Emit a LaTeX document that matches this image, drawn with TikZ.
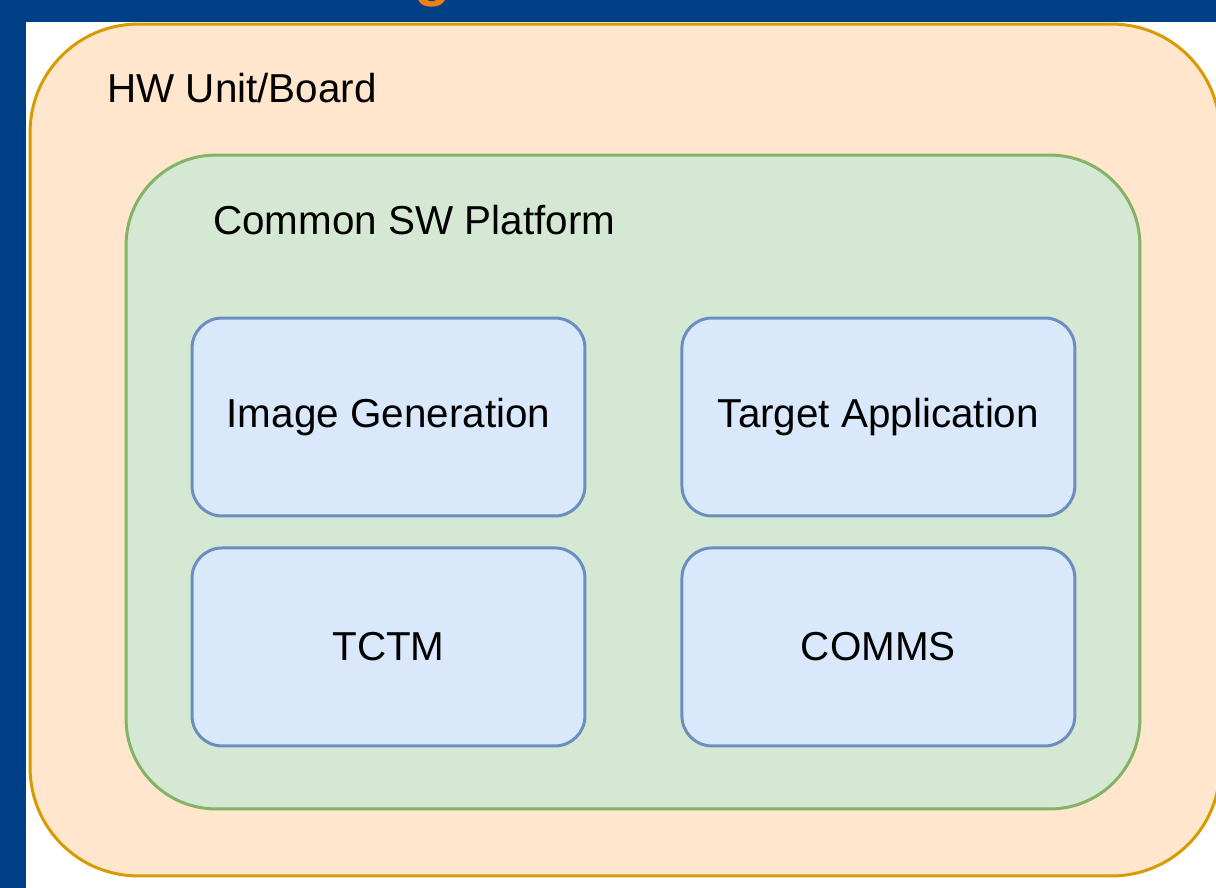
\documentclass[tikz,border=0pt]{standalone}
\usepackage{fontspec}
\setmainfont{Liberation Sans}
\usepackage{tikz}
\usetikzlibrary{positioning}
\definecolor{slideblue}{RGB}{0,64,135}
\definecolor{slideorange}{RGB}{240,128,16}
\definecolor{hwfill}{HTML}{FFE6CC}
\definecolor{hwline}{HTML}{D79B00}
\definecolor{swfill}{HTML}{D5E8D4}
\definecolor{swline}{HTML}{82B366}
\definecolor{modfill}{HTML}{DAE8FC}
\definecolor{modline}{HTML}{6C8EBF}
\tikzset
{
    hwbox/.style     = {rectangle, rounded corners=2.16cm, draw=hwline, fill=hwfill, line width=1.7pt, minimum width=23.8cm, minimum height=17.04cm},
    swbox/.style     = {rectangle, rounded corners=1.8cm, draw=swline, fill=swfill, line width=1.7pt, minimum width=20.28cm, minimum height=13.08cm},
    modulebox/.style = {rectangle, rounded corners=0.6cm, draw=modline, fill=modfill, line width=1.7pt, minimum width=7.86cm, minimum height=3.96cm, align=center},
    boxtitle/.style  = {anchor=base west, inner sep=0pt}
}

\begin{document}
\begin{tikzpicture}[x=0.02cm, y=-0.02cm, font=\fontsize{23}{27}\selectfont, node distance=0.58cm and 1.88cm]
    \useasboundingbox (0,0) rectangle (1216,888);
    % slide frame
    \fill[slideblue] (0,0) rectangle (1216,888);
    \fill[white] (26,22) rectangle (1216,888);
    \node[text=slideorange, anchor=base, inner sep=0pt, font=\fontsize{34}{40}\selectfont\bfseries] (slidetitle) at (433,-5) {g};

    % containers
    \node[hwbox] (board) at (625,450) {};
    \node[boxtitle] (boardlabel) at (107,103) {HW Unit/Board};
    \node[swbox] (platform) at (633,482) {};
    \node[boxtitle] (platformlabel) at (213,235) {Common SW Platform};

    % modules
    \node[modulebox] (imggen) at (388.5,417) {Image Generation};
    \node[modulebox, right=of imggen] (target) {Target Application};
    \node[modulebox, below=of imggen] (tctm) {TCTM};
    \node[modulebox, below=of target] (comms) {COMMS};
\end{tikzpicture}
\end{document}
